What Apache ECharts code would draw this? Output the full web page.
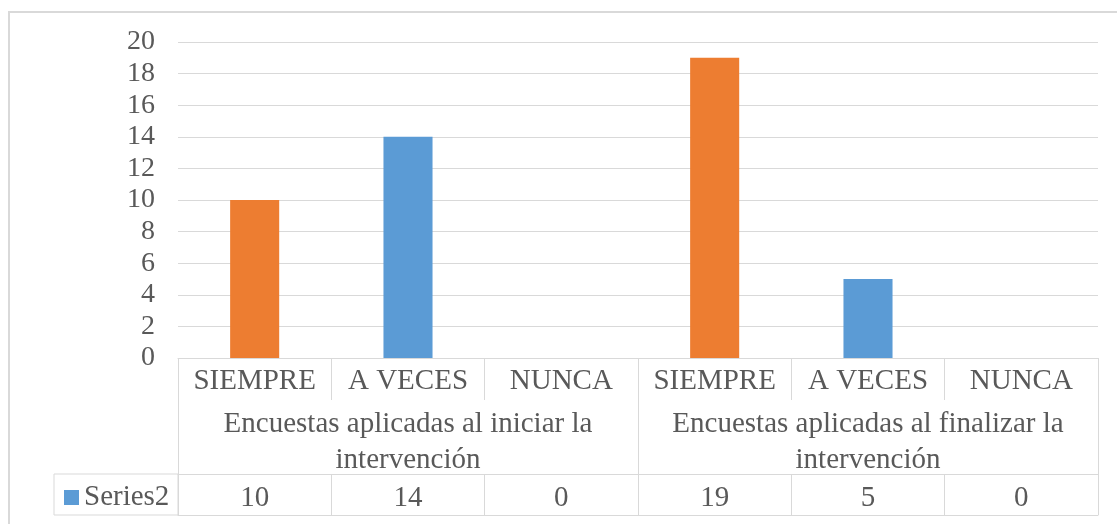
<!DOCTYPE html>
<html>
<head>
<meta charset="utf-8">
<script src="https://cdn.jsdelivr.net/npm/echarts@6/dist/echarts.min.js"></script>
<style>
html,body{margin:0;padding:0;background:#fff;}
#chart{width:1117px;height:524px;}
</style>
</head>
<body>
<div id="chart"></div>
<script>
const categories = ['SIEMPRE', 'A VECES', 'NUNCA', 'SIEMPRE', 'A VECES', 'NUNCA'];
const groups = ['Encuestas aplicadas al iniciar la\nintervención', 'Encuestas aplicadas al finalizar la\nintervención'];
const seriesName = 'Series2';
const values = [10, 14, 0, 19, 5, 0];
const yTicks = { min: 0, max: 20, interval: 2 };

const ORANGE = '#ED7D31';
const BLUE = '#5B9BD5';
const GRID = '#D9D9D9';
const TEXT = '#595959';
const FONT = 'Liberation Serif';

const chart = echarts.init(document.getElementById('chart'));

const barData = values.map((v, i) => categories[i] === 'SIEMPRE'
  ? { value: v, itemStyle: { color: ORANGE } }
  : { value: v });

const gridLeft = 178, gridRight = 19, gridTop = 42, gridBottom = 166;
const axisY = 524 - gridBottom;

const baseX = {
  type: 'category',
  position: 'bottom',
  gridIndex: 0,
  boundaryGap: true,
  axisLine: { show: false, lineStyle: { color: GRID, width: 1 } },
  axisTick: { show: false, alignWithLabel: false, interval: 0, lineStyle: { color: GRID, width: 1 } },
  axisLabel: { color: TEXT, fontFamily: FONT, fontSize: 29, interval: 0 },
  splitLine: { show: false }
};

const option = {
  animation: false,
  backgroundColor: '#fff',
  textStyle: { fontFamily: FONT },
  grid: { left: gridLeft, right: gridRight, top: gridTop, bottom: gridBottom, containLabel: false },
  legend: {
    show: true,
    data: [seriesName],
    left: 59,
    top: 478,
    icon: 'rect',
    itemWidth: 15,
    itemHeight: 15,
    textStyle: { color: TEXT, fontFamily: FONT, fontSize: 29 },
    selectedMode: false
  },
  xAxis: [
    Object.assign({}, baseX, {
      data: categories,
      axisLine: { show: true, lineStyle: { color: GRID, width: 1 } },
      axisTick: { show: true, interval: 0, length: 42, lineStyle: { color: GRID, width: 1 } },
      axisLabel: Object.assign({}, baseX.axisLabel, { margin: 9 })
    }),
    Object.assign({}, baseX, {
      data: groups,
      offset: 42,
      axisTick: { show: true, interval: 0, length: 74, lineStyle: { color: GRID, width: 1 } },
      axisLabel: Object.assign({}, baseX.axisLabel, { margin: 6, lineHeight: 36 })
    }),
    Object.assign({}, baseX, {
      data: values.map(String),
      offset: 116,
      axisLine: { show: true, lineStyle: { color: GRID, width: 1 } },
      axisTick: { show: true, interval: 0, length: 41, lineStyle: { color: GRID, width: 1 } },
      axisLabel: Object.assign({}, baseX.axisLabel, { margin: 10 })
    }),
    Object.assign({}, baseX, {
      data: categories,
      offset: 157,
      axisLine: { show: true, lineStyle: { color: GRID, width: 1 } },
      axisLabel: { show: false }
    })
  ],
  yAxis: {
    type: 'value',
    min: yTicks.min,
    max: yTicks.max,
    interval: yTicks.interval,
    axisLine: { show: false },
    axisTick: { show: false },
    axisLabel: { color: TEXT, fontFamily: FONT, fontSize: 28, margin: 23, showMinLabel: true, showMaxLabel: true },
    splitLine: { lineStyle: { color: GRID, width: 1 } }
  },
  graphic: [
    {
      type: 'rect',
      shape: { x: 9, y: 12, width: 1300, height: 700 },
      style: { fill: 'none', stroke: GRID, lineWidth: 2 },
      silent: true,
      z: -10
    },
    {
      type: 'rect',
      shape: { x: 54, y: axisY + 116, width: gridLeft - 54, height: 41 },
      style: { fill: 'none', stroke: GRID, lineWidth: 1 },
      silent: true
    }
  ],
  series: [
    {
      name: seriesName,
      type: 'bar',
      xAxisIndex: 0,
      data: barData,
      barWidth: '32%',
      itemStyle: { color: BLUE }
    }
  ]
};

chart.setOption(option);
</script>
</body>
</html>
